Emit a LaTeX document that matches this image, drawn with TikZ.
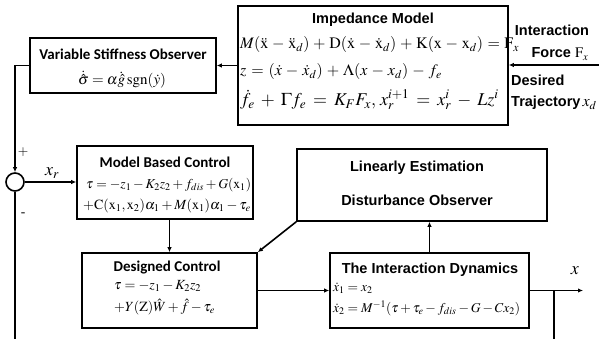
\documentclass[tikz,border=0pt]{standalone}
\usepackage{mathptmx}
\usepackage[no-math]{fontspec}
\setmainfont{Liberation Serif}
\newfontfamily\arialb[BoldFont={* Bold}]{Liberation Sans}
\newfontfamily\calib[BoldFont={* Bold}]{Carlito}
\usetikzlibrary{arrows.meta}
\tikzset{
  blk/.style={draw, line width=1.6pt, inner sep=0pt},
  conn/.style={line width=1.6pt},
  arr/.style={conn, -{Latex[length=5pt,width=4.5pt]}},
  ttla/.style={inner sep=0pt, font=\fontsize{14.5}{17}\selectfont\arialb\bfseries},
  ttlc/.style={inner sep=0pt, font=\fontsize{15}{18}\selectfont\calib\bfseries},
  eq/.style={inner sep=0pt, font=\fontsize{15}{18}\selectfont},
  eqm/.style={inner sep=0pt, font=\fontsize{14}{17}\selectfont},
  eqs/.style={inner sep=0pt, font=\fontsize{13.5}{16}\selectfont},
  eqb/.style={inner sep=0pt, font=\fontsize{16}{18}\selectfont},
}
\begin{document}
\begin{tikzpicture}[x=1pt,y=-1pt]
\useasboundingbox (0,0) rectangle (599,339);
% boxes
\node[blk, minimum width=186pt, minimum height=55pt] (vso) at (123,65.5) {};
\node[blk, minimum width=270pt, minimum height=119pt] (imp) at (373,65.5) {};
\node[blk, minimum width=176pt, minimum height=73pt] (mbc) at (165,182.5) {};
\node[blk, minimum width=175pt, minimum height=75pt] (dc) at (169.5,290.5) {};
\node[blk, minimum width=250pt, minimum height=72pt] (ledo) at (422,185) {};
\node[blk, minimum width=199pt, minimum height=75pt] (id) at (429.5,290.5) {};
\node[draw, circle, line width=1.6pt, minimum size=18pt, inner sep=0pt] (sum) at (15,182) {};
% texts
\node[ttlc] (vsot) at (123,54) {Variable Stiffness Observer};
\node[eq] (vsoe) at (122,80) {$\dot{\hat{\sigma}}=\alpha\dot{\hat{g}}\,\mathrm{sgn}(\dot{y})$};
\node[ttla] (impt) at (373,20) {Impedance Model};
\node[eqb, anchor=west] (imp1) at (240,45) {$\medmuskip=4.2mu\thickmuskip=5mu M(\ddot{\mathrm{x}}-\ddot{\mathrm{x}}_d)+\mathrm{D}(\dot{\mathrm{x}}-\dot{\mathrm{x}}_d)+\mathrm{K}(\mathrm{x}-\mathrm{x}_d)=\mathrm{F}_x$};
\node[eqb, anchor=west] (imp2) at (240,72) {$\medmuskip=4.5mu\thickmuskip=5.5mu z=(\dot{x}-\dot{x}_d)+\Lambda(x-x_d)-f_e$};
\node[eqb, anchor=west, font=\fontsize{18}{20}\selectfont] (imp3) at (240,100) {$\medmuskip=6mu\thickmuskip=7mu \dot{f}_e+\Gamma f_e=K_F F_x,\,x_r^{i+1}=x_r^i-Lz^i$};
\node[ttla] (inf1) at (552,30) {Interaction};
\node[ttla] (inf2) at (560,54) {Force $\mathrm{F}_x$};
\node[ttla, anchor=west] (dt1) at (511,80) {Desired};
\node[ttla, anchor=west] (dt2) at (511,103) {Trajectory\hspace{2pt}{\fontsize{16}{16}\selectfont$x_d$}};
\node[ttlc] (mbct) at (165,162) {Model Based Control};
\node[eqm, anchor=west, font=\fontsize{13.6}{17}\selectfont] (mbc1) at (86,185) {$\tau=-z_1-K_2z_2+f_{dis}+G(\mathrm{x}_1)$};
\node[eqm, anchor=west] (mbc2) at (83,206) {$+\mathrm{C}(\mathrm{x}_1,\mathrm{x}_2)\alpha_1+M(\mathrm{x}_1)\alpha_1-\tau_e$};
\node[ttlc] (dct) at (167,268) {Designed Control};
\node[eqm, anchor=west] (dc1) at (114,286) {$\tau=-z_1-K_2z_2$};
\node[eqm, anchor=west] (dc2) at (114,307) {$+Y(\mathrm{Z})\hat{W}+\hat{f}-\tau_e$};
\node[ttla] (ledo1) at (417,168) {Linearly Estimation};
\node[ttla] (ledo2) at (417,200) {Disturbance Observer};
\node[ttla] (idt) at (430,270) {The Interaction Dynamics};
\node[eqs, anchor=west] (id1) at (333,288) {$\dot{x}_1=x_2$};
\node[eqs, anchor=west] (id2) at (333,308) {$\dot{x}_2=M^{-1}(\tau+\tau_e-f_{dis}-G-Cx_2)$};
\node[eq, font=\fontsize{18}{18}\selectfont] (xl) at (575,271) {$x$};
\node[eq, font=\fontsize{18}{18}\selectfont] (xrl) at (52,173) {$x_r$};
\node[eqs] (plus) at (23,152) {$+$};
\node[eqs] (minus) at (23,215) {-};
% coordinates
\coordinate (fin) at (599,65);
\coordinate (out) at (583,290.5);
\coordinate (br) at (554,290.5);
\coordinate (brend) at (554,339);
\coordinate (sumend) at (15,339);
% connectors
\draw[arr] (fin) -- (imp.east |- fin);
\draw[arr] (imp.west) -- (vso.east);
\draw[arr] (vso.west) -| (sum.north);
\draw[arr] (sum.east) -- (mbc.west |- sum.east);
\draw[conn] (sum.south) -- (sumend);
\draw[arr] (mbc.south -| dc.north) -- (dc.north);
\draw[arr] (ledo.south west) -- (dc.north east);
\draw[arr] (dc.east) -- (id.west);
\draw[arr] (id.north) -- (id.north |- ledo.south);
\draw[arr] (id.east) -- (out);
\draw[conn] (br) -- (brend);
\end{tikzpicture}
\end{document}
